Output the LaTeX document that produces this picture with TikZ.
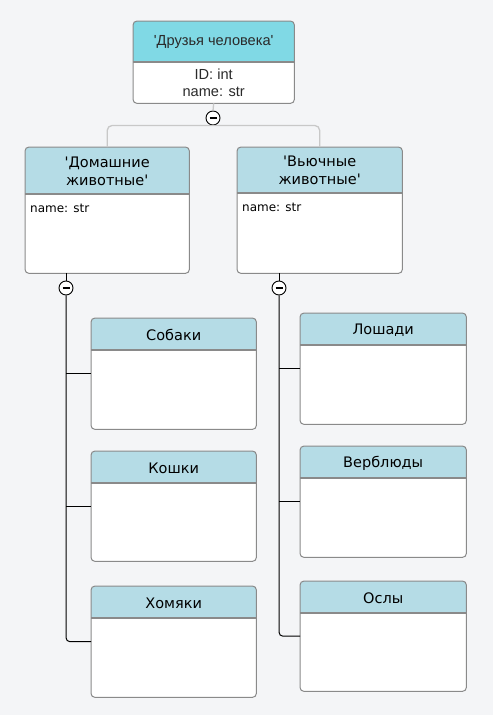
\documentclass[tikz,border=0pt]{standalone}
\usepackage{fontspec}
\setmainfont{DejaVu Sans}
\newfontfamily\arialfont{Liberation Sans}
\usepackage{tikz}

\definecolor{bgcol}{HTML}{F4F5F7}
\definecolor{topcol}{HTML}{80D9E5}
\definecolor{headcol}{HTML}{B5DCE6}
\definecolor{edgecol}{HTML}{8A8A8A}
\definecolor{softcol}{HTML}{C8C8C8}
\definecolor{arialtxt}{HTML}{2A2A2A}

\tikzset{
  cls/.style={fill=white, rounded corners=4pt, inner sep=0pt, anchor=north west},
  knob/.style={circle, draw=black, fill=white, line width=0.9pt, minimum size=14pt, inner sep=0pt,
    path picture={\draw[line width=1.1pt] ([xshift=-3.5pt]path picture bounding box.center) -- ([xshift=3.5pt]path picture bounding box.center);}},
  link/.style={draw=black, line width=1pt, rounded corners=4pt},
  softlink/.style={draw=softcol, line width=1.3pt, rounded corners=5pt},
  title/.style={font=\fontsize{14.5}{18}\selectfont, align=center},
  field/.style={font=\fontsize{12}{15}\selectfont, anchor=north west, inner sep=0pt}
}

% class box: name, x, y, width, height, header height, header colour
\newcommand{\classbox}[7]{
  \node[cls, minimum width=#4pt, minimum height=#5pt] (#1) at (#2,#3) {};
  \coordinate (#1-hl) at ([yshift=-#6pt]#1.north west);
  \coordinate (#1-hr) at ([yshift=-#6pt]#1.north east);
  \fill[#7] (#1-hl) [rounded corners=4pt] -- (#1.north west) -- (#1.north east) [sharp corners] -- (#1-hr) -- cycle;
  \draw[edgecol, line width=1.2pt] (#1-hl) -- (#1-hr);
  \draw[edgecol, line width=1pt, rounded corners=4pt] (#1.north west) rectangle (#1.south east);
}

\begin{document}
\begin{tikzpicture}[x=1pt, y=-1pt]
\fill[bgcol] (0,0) rectangle (493,715);

% connectors
\node[knob] (k0) at (213,118) {};
\node[knob] (k1) at (66,288) {};
\node[knob] (k2) at (279,288) {};

% top level
\classbox{friends}{133}{21}{161}{82}{41}{topcol}
\node[font=\arialfont\fontsize{14.6}{17}\selectfont, text=arialtxt] (friendsT) at ([yshift=-21pt]friends.north) {\textquotesingle Друзья человека\textquotesingle};
\node[font=\arialfont\fontsize{14.6}{17}\selectfont, text=arialtxt, align=center] (friendsF) at ([yshift=-61.5pt]friends.north) {ID: int\\name: str};

\classbox{dom}{25}{147}{164}{126}{47}{headcol}
\node[title] (domT) at ([yshift=-24pt]dom.north) {\textquotesingle Домашние\\животные\textquotesingle};
\node[field] (domF) at ([xshift=5pt, yshift=-9.5pt]dom-hl) {name: str};

\classbox{pack}{237}{147}{165}{126}{46}{headcol}
\node[title] (packT) at ([yshift=-23.5pt]pack.north) {\textquotesingle Вьючные\\животные\textquotesingle};
\node[field] (packF) at ([xshift=5pt, yshift=-9.5pt]pack-hl) {name: str};

\draw[softlink] (friends.south) -- (k0.north);
\draw[softlink] (dom.north) -- (dom.north |- k0.south) -- (pack.north |- k0.south) -- (pack.north);

% pets
\classbox{dogs}{91}{318}{165}{111}{32}{headcol}
\node[title] (dogsT) at ([yshift=-17pt]dogs.north) {Собаки};
\classbox{cats}{91}{451}{165}{110}{32}{headcol}
\node[title] (catsT) at ([yshift=-17pt]cats.north) {Кошки};
\classbox{hamsters}{91}{586}{165}{111}{32}{headcol}
\node[title] (hamstersT) at ([yshift=-17pt]hamsters.north) {Хомяки};

\draw[link] (k1 |- dom.south) -- (k1.north);
\draw[link] (k1.south) |- (hamsters.west);
\draw[link] (k1 |- dogs.west) -- (dogs.west);
\draw[link] (k1 |- cats.west) -- (cats.west);

% pack animals
\classbox{horses}{300}{313}{166}{111}{32}{headcol}
\node[title] (horsesT) at ([yshift=-17pt]horses.north) {Лошади};
\classbox{camels}{300}{446}{166}{111}{32}{headcol}
\node[title] (camelsT) at ([yshift=-17pt]camels.north) {Верблюды};
\classbox{donkeys}{300}{581}{166}{110}{32}{headcol}
\node[title] (donkeysT) at ([yshift=-17pt]donkeys.north) {Ослы};

\draw[link] (k2 |- pack.south) -- (k2.north);
\draw[link] (k2.south) |- (donkeys.west);
\draw[link] (k2 |- horses.west) -- (horses.west);
\draw[link] (k2 |- camels.west) -- (camels.west);
\end{tikzpicture}
\end{document}
